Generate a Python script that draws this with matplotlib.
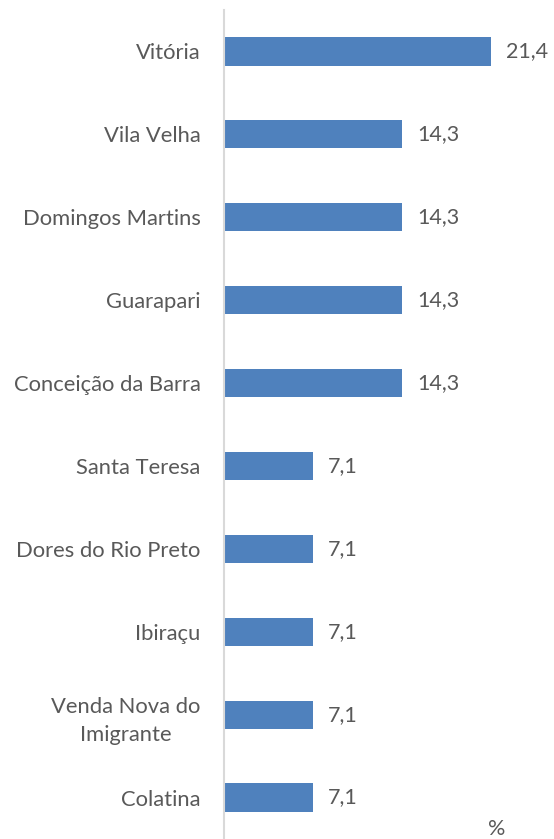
import matplotlib
matplotlib.use('Agg')
import matplotlib.pyplot as plt

cidades = ['Vitória', 'Vila Velha', 'Domingos Martins', 'Guarapari',
           'Conceição da Barra', 'Santa Teresa', 'Dores do Rio Preto',
           'Ibiraçu', 'Venda Nova do\nImigrante', 'Colatina']
valores = [21.4, 14.3, 14.3, 14.3, 14.3, 7.1, 7.1, 7.1, 7.1, 7.1]

plt.rcParams['font.family'] = ['Lato', 'DejaVu Sans']
texto = '#595959'

fig = plt.figure(figsize=(5.54, 8.39), dpi=100)
ax = fig.add_axes([224/554, 0, 330/554, 829/839])

pos = list(range(len(cidades)))
ax.barh(pos, valores, height=0.34, color='#4F81BD')
ax.set_ylim(9.5, -0.5)
ax.set_xlim(0, 26.44)

for p, v in zip(pos, valores):
    ax.text(v + 1.2, p, f'{v:.1f}'.replace('.', ','), va='center', ha='left',
            fontsize=15.5, color=texto)

ax.set_yticks(pos)
ax.set_yticklabels(cidades, fontsize=15.8, color=texto, linespacing=1.55,
                   multialignment='center')
ax.tick_params(axis='y', length=0, pad=17)
ax.set_xticks([])
for s in ['top', 'right', 'bottom']:
    ax.spines[s].set_visible(False)
ax.spines['left'].set_color('#D9D9D9')
ax.spines['left'].set_linewidth(1.5)

fig.text(497/554, 1 - 829/839, '%', ha='center', va='center', fontsize=15.5, color=texto)

fig.savefig('out.png', dpi=100)
